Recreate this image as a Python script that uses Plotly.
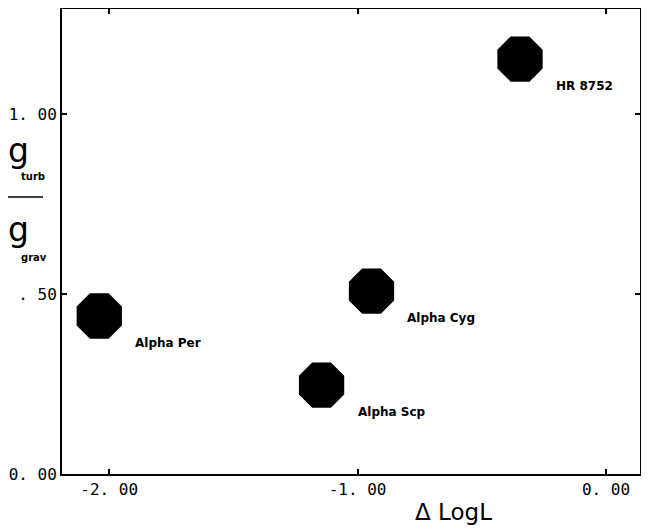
import plotly.graph_objects as go

stars = ["Alpha Per", "Alpha Scp", "Alpha Cyg", "HR 8752"]
delta_logl = [-2.04, -1.145, -0.944, -0.346]
g_ratio = [0.439, 0.247, 0.508, 1.153]

x_ticks = [-2.0, -1.0, 0.0]
x_ticktext = ["-2. 00", "-1. 00", "0. 00"]
y_ticks = [0.0, 0.5, 1.0]
y_ticktext = ["0. 00", ". 50", "1. 00"]

fig = go.Figure()
fig.add_trace(go.Scatter(
    x=delta_logl, y=g_ratio, mode="markers",
    marker=dict(symbol="octagon", size=49, color="black", line=dict(width=0)),
    hoverinfo="text", text=stars, showlegend=False,
))

for s, x, y in zip(stars, delta_logl, g_ratio):
    fig.add_annotation(x=x, y=y, text="<b>" + s + "</b>", showarrow=False, xanchor="left", yanchor="middle",
                       xshift=34, yshift=-27,
                       font=dict(family="DejaVu Sans", size=12, color="black"))

axis_common = dict(showline=True, linecolor="black", linewidth=2, mirror="ticks",
                   ticks="inside", ticklen=5, tickwidth=1.5, tickcolor="black",
                   showgrid=False, zeroline=False, automargin=False,
                   tickfont=dict(family="DejaVu Sans Mono", size=16, color="black"))

# page is drawn with an ~8px body offset, so the figure is slightly smaller
fig.update_layout(
    width=641, height=524,
    margin=dict(l=54, r=9, t=1, b=58),
    paper_bgcolor="white", plot_bgcolor="white",
    xaxis=dict(range=[-2.19, 0.137], tickvals=x_ticks, ticktext=x_ticktext, **axis_common),
    yaxis=dict(range=[0.0, 1.292], tickvals=y_ticks, ticktext=y_ticktext, **axis_common),
)

W, H, L, T = 578.0, 465.0, 62.0, 9.0
def px(xp):
    return (xp - L) / W
def py(yp):
    return (T + H - yp) / H

# x-axis title
fig.add_annotation(xref="paper", yref="paper", x=px(453), y=py(512), text="Δ LogL", showarrow=False,
                   xanchor="center", yanchor="middle",
                   font=dict(family="DejaVu Sans", size=23, color="black"))

# y-axis title as a fraction
for gy, sy, sub in [(150, 176, "turb"), (230, 257, "grav")]:
    fig.add_annotation(xref="paper", yref="paper", x=px(6), y=py(gy), text="g", showarrow=False,
                       xanchor="left", yanchor="middle",
                       font=dict(family="DejaVu Sans", size=33, color="black"))
    fig.add_annotation(xref="paper", yref="paper", x=px(19), y=py(sy), text="<b>" + sub + "</b>",
                       showarrow=False, xanchor="left", yanchor="middle",
                       font=dict(family="DejaVu Sans", size=10, color="black"))
fig.add_shape(type="line", xref="paper", yref="paper", x0=px(8), x1=px(43), y0=py(197), y1=py(197),
              line=dict(color="black", width=1.5))

fig.write_html("out.html")
